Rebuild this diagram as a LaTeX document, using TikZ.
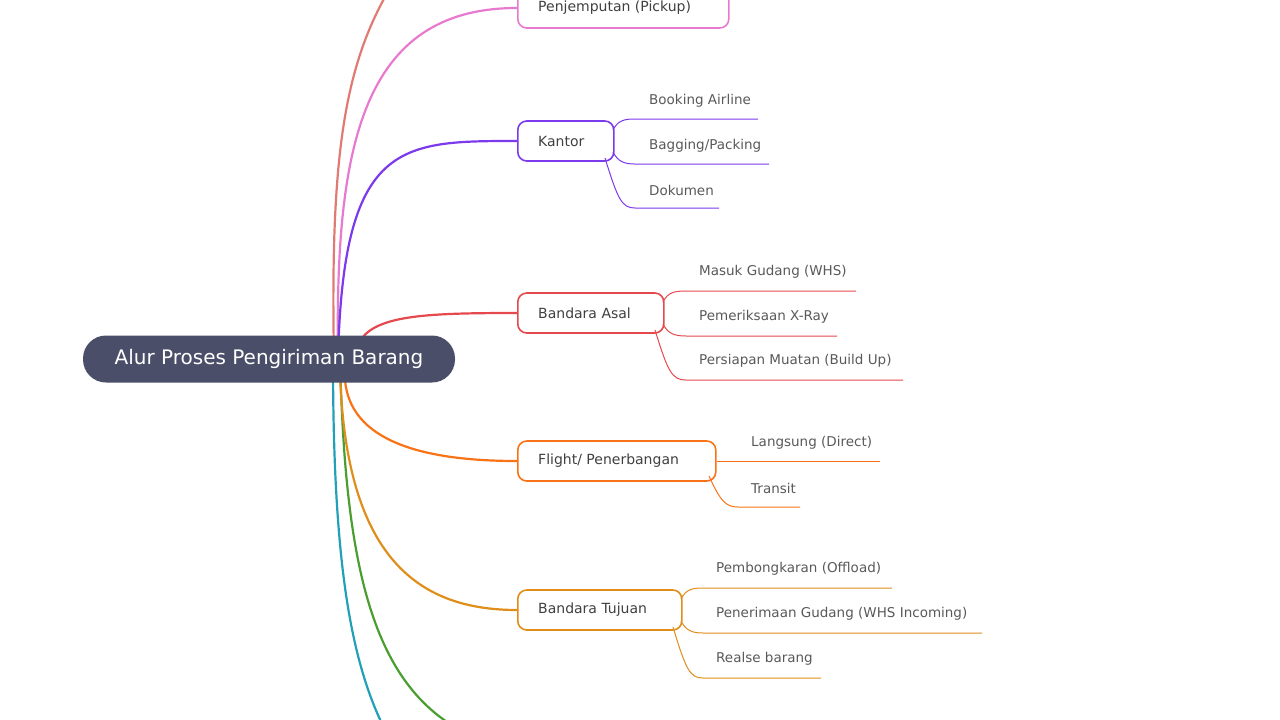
\documentclass[tikz,border=0pt]{standalone}
\usepackage{fontspec}
\setmainfont{DejaVu Sans}
\begin{document}
\begin{tikzpicture}[x=1pt,y=-1pt,
  box/.style={draw,line width=1.6pt,rounded corners=9pt,fill=white,text=black!75,font=\fontsize{14}{16}\selectfont,minimum height=40pt,inner xsep=0pt,anchor=west},
  lbl/.style={anchor=west,inner sep=0pt,text=black!65,font=\fontsize{13.5}{15}\selectfont},
  br/.style={line width=2.2pt},
  sb/.style={line width=1pt}]
\definecolor{cR}{HTML}{E07B74}\definecolor{cP}{HTML}{E879D0}\definecolor{cV}{HTML}{7C3AED}
\definecolor{cA}{HTML}{E5484D}\definecolor{cO}{HTML}{F97316}\definecolor{cT}{HTML}{E08E1B}
\definecolor{cG}{HTML}{4A9E2F}\definecolor{cC}{HTML}{22A0B8}
\useasboundingbox (0,0) rectangle (1280,720);
\coordinate (o) at (338,359);
\coordinate (up) at (395,-20);
\coordinate (dg) at (460,730);
\coordinate (dc) at (385,730);
\draw[br,cR] (334,359) .. controls (330,150) and (345,60) .. (up);
\draw[br,cG] (340,359) .. controls (345,560) and (370,680) .. (dg);
\draw[br,cC] (333,359) .. controls (333,560) and (350,660) .. (dc);
\node[box,draw=cP,minimum width=211pt] (p) at (517,8) {};
\node[lbl,text=black!75,font=\fontsize{14}{16}\selectfont] (pt) at (538,8) {Penjemputan (Pickup)};
\node[box,draw=cV,minimum width=96pt] (k) at (517,141) {};
\node[lbl,text=black!75,font=\fontsize{14}{16}\selectfont] (kt) at (538,141) {Kantor};
\node[box,draw=cA,minimum width=146pt] (a) at (517,313) {};
\node[lbl,text=black!75,font=\fontsize{14}{16}\selectfont] (at) at (538,313) {Bandara Asal};
\node[box,draw=cO,minimum width=198pt] (f) at (517,461) {};
\node[lbl,text=black!75,font=\fontsize{14}{16}\selectfont] (ft) at (538,461) {Flight/ Penerbangan};
\node[box,draw=cT,minimum width=164pt] (t) at (517,610) {};
\node[lbl,text=black!75,font=\fontsize{14}{16}\selectfont] (tt) at (538,610) {Bandara Tujuan};
\draw[br,cP] (338,359) .. controls (335,150) and (360,8) .. (p.west);
\draw[br,cV] (o) .. controls (343,141) and (400,141) .. (k.west);
\draw[br,cA] (362,338) .. controls (380,315) and (430,313) .. (a.west);
\draw[br,cO] (345,380) .. controls (350,440) and (420,461) .. (f.west);
\draw[br,cT] (340,370) .. controls (345,560) and (420,610) .. (t.west);
% Kantor
\node[lbl] (k1) at (649,101) {Booking Airline};
\node[lbl] (k2) at (649,146) {Bagging/Packing};
\node[lbl] (k3) at (649,190) {Dokumen};
\draw[sb,cV] (613,130) .. controls (618,120) and (625,119) .. (635,119) -- (758,119);
\draw[sb,cV] (613,152) .. controls (618,162) and (625,164) .. (635,164) -- (769,164);
\draw[sb,cV] (605,158) .. controls (618,200) and (622,208) .. (635,208) -- (719,208);
% Asal
\node[lbl] (a1) at (699,272) {Masuk Gudang (WHS)};
\node[lbl] (a2) at (699,317) {Pemeriksaan X-Ray};
\node[lbl] (a3) at (699,361) {Persiapan Muatan (Build Up)};
\draw[sb,cA] (663,302) .. controls (668,292) and (675,291) .. (686,291) -- (856,291);
\draw[sb,cA] (663,324) .. controls (668,334) and (675,336) .. (686,336) -- (837,336);
\draw[sb,cA] (655,330) .. controls (668,372) and (672,380) .. (686,380) -- (903,380);
% Flight
\node[lbl] (f1) at (751,443) {Langsung (Direct)};
\node[lbl] (f2) at (751,488) {Transit};
\draw[sb,cO] (f.east) -- (880,461);
\draw[sb,cO] (709,476) .. controls (720,500) and (725,507) .. (738,507) -- (800,507);
% Tujuan
\node[lbl] (t1) at (716,569) {Pembongkaran (Offload)};
\node[lbl] (t2) at (716,614) {Penerimaan Gudang (WHS Incoming)};
\node[lbl] (t3) at (716,659) {Realse barang};
\draw[sb,cT] (681,599) .. controls (686,589) and (693,588) .. (703,588) -- (892,588);
\draw[sb,cT] (681,621) .. controls (686,631) and (693,633) .. (703,633) -- (982,633);
\draw[sb,cT] (673,627) .. controls (686,670) and (690,678) .. (703,678) -- (821,678);
% root
\node[fill=black!20!blue!15!gray,fill={rgb,255:red,74;green,78;blue,105},rounded corners=23pt,minimum width=372pt,minimum height=47pt,text=white,font=\fontsize{20}{22}\selectfont] (r) at (269,359) {Alur Proses Pengiriman Barang};
\end{tikzpicture}
\end{document}
